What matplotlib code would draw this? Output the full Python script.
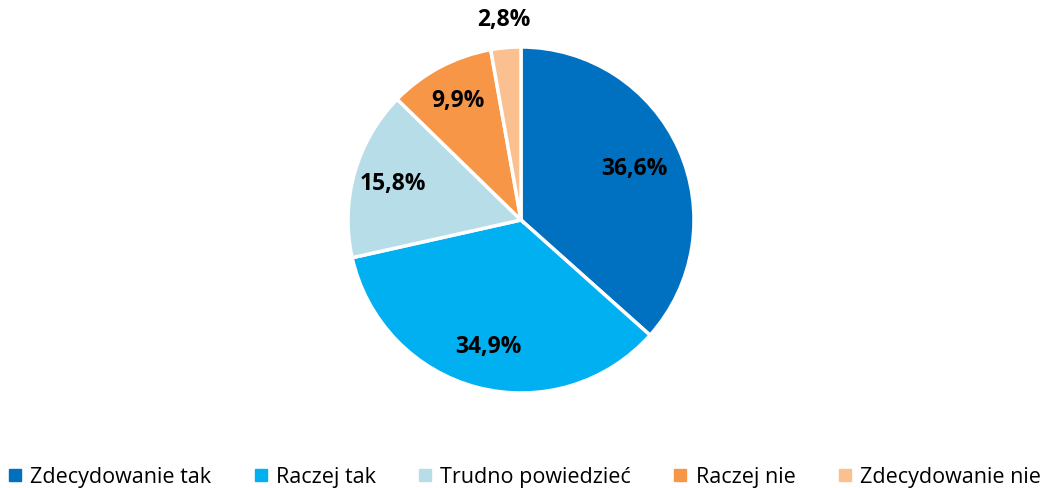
import numpy as np
import matplotlib
matplotlib.use("Agg")
import matplotlib.pyplot as plt
from matplotlib.lines import Line2D

plt.rcParams['font.family'] = ['Open Sans', 'DejaVu Sans']

categories = ["Zdecydowanie tak", "Raczej tak", "Trudno powiedzieć", "Raczej nie", "Zdecydowanie nie"]
values = [36.6, 34.9, 15.8, 9.9, 2.8]
colors = ["#0070C0", "#00B0F0", "#B7DEE8", "#F79646", "#FAC090"]
label_radius = [0.72, 0.76, 0.77, 0.78, 1.16]

fig = plt.figure(figsize=(10.48, 4.88), dpi=100)
ax = fig.add_axes([348 / 1048, 95 / 488, 346 / 1048, 346 / 488])

wedges, _ = ax.pie(values, colors=colors, startangle=90, counterclock=False,
                   radius=1.0, wedgeprops=dict(edgecolor="white", linewidth=2.5))

for w, v, r in zip(wedges, values, label_radius):
    mid = np.deg2rad((w.theta1 + w.theta2) / 2)
    ax.text(r * np.cos(mid), r * np.sin(mid), f"{v:.1f}%".replace(".", ","),
            ha="center", va="center", fontsize=16.5, fontweight="bold", color="black")

ax.set_xlim(-1, 1)
ax.set_ylim(-1, 1)
ax.set_aspect("equal")
ax.axis("off")

handles = [Line2D([], [], marker="s", linestyle="none", markersize=9,
                  markerfacecolor=c, markeredgecolor=c) for c in colors]
fig.legend(handles, categories, loc="center", bbox_to_anchor=(0.5, 0.022),
           ncol=5, frameon=False, fontsize=15.5, handlelength=0.7,
           handletextpad=0.35, columnspacing=1.95, borderaxespad=0.1)

fig.savefig("out.png", dpi=100)
